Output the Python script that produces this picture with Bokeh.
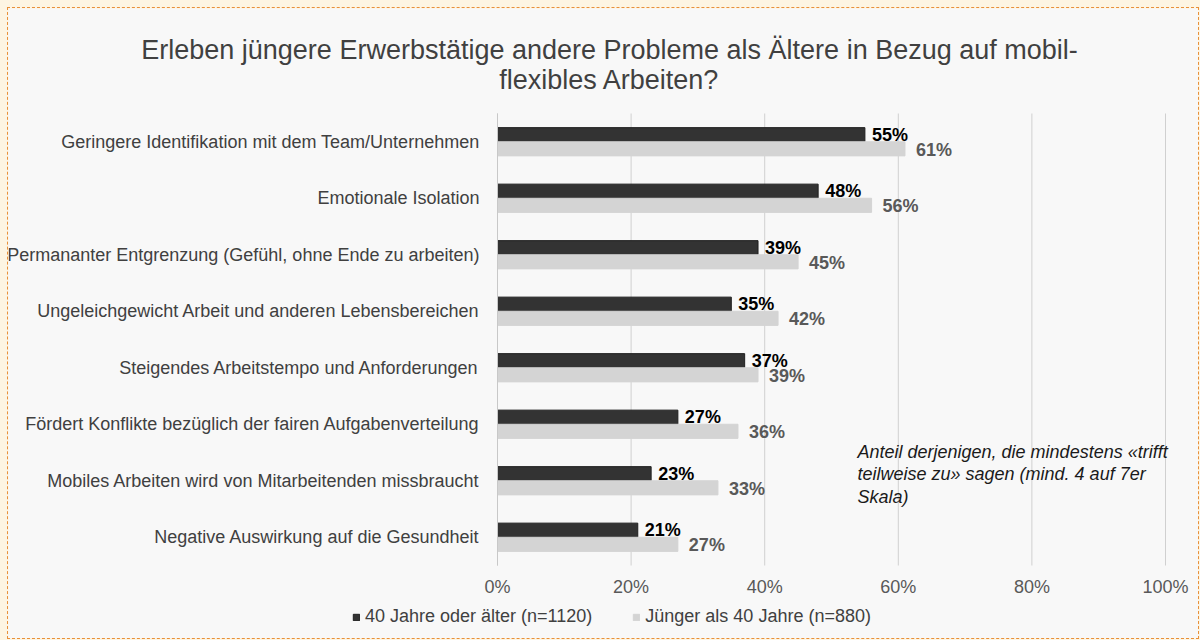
from bokeh.plotting import figure
from bokeh.models import (ColumnDataSource, Range1d, FixedTicker, LabelSet, Label,
                          Legend, LegendItem, LinearAxis)
from bokeh.core.properties import value
from bokeh.embed import file_html
from bokeh.resources import INLINE

categories = [
    "Geringere Identifikation mit dem Team/Unternehmen",
    "Emotionale Isolation",
    "Permananter Entgrenzung (Gefühl, ohne Ende zu arbeiten)",
    "Ungeleichgewicht Arbeit und anderen Lebensbereichen",
    "Steigendes Arbeitstempo und Anforderungen",
    "Fördert Konflikte bezüglich der fairen Aufgabenverteilung",
    "Mobiles Arbeiten wird von Mitarbeitenden missbraucht",
    "Negative Auswirkung auf die Gesundheit",
]
older = [55, 48, 39, 35, 37, 27, 23, 21]
younger = [61, 56, 45, 42, 39, 36, 33, 27]
series_names = ["40 Jahre oder älter (n=1120)", "Jünger als 40 Jahre (n=880)"]
x_ticks = [0, 20, 40, 60, 80, 100]
title_lines = [
    "Erleben jüngere Erwerbstätige andere Probleme als Ältere in Bezug auf mobil-",
    "flexibles Arbeiten?",
]
note_lines = [
    "Anteil derjenigen, die mindestens «trifft",
    "teilweise zu» sagen (mind. 4 auf 7er",
    "Skala)",
]

FONT = "Liberation Sans"
BG = "#f8f8f8"
DARK = "#333333"
LIGHT = "#d4d4d4"
GRID = "#d0d0d0"

W, H = 1192, 632
# layout of the plotting area (pixels inside the figure)
AREA_LEFT, AREA_RIGHT = 489, 1157      # 0% and 100%
AREA_TOP, AREA_BOTTOM = 105, 557       # top of first / bottom of last category band

n = len(categories)
pos = [n - 1 - i for i in range(n)]
bar_h = 0.25

px_x = (AREA_RIGHT - AREA_LEFT) / 100.0
px_y = (AREA_BOTTOM - AREA_TOP) / float(n)
x_range = Range1d(-AREA_LEFT / px_x, (W - AREA_LEFT) / px_x)
y_range = Range1d(-0.5 - (H - AREA_BOTTOM) / px_y, n - 0.5 + AREA_TOP / px_y)

src_old = ColumnDataSource(dict(y=[p + bar_h / 2 for p in pos], v=older,
                                t=[f"{v}%" for v in older]))
src_young = ColumnDataSource(dict(y=[p - bar_h / 2 for p in pos], v=younger,
                                  t=[f"{v}%" for v in younger]))

p = figure(width=W, height=H, output_backend="svg", toolbar_location=None,
           x_range=x_range, y_range=y_range,
           x_axis_location=None, y_axis_location=None,
           min_border_left=0, min_border_right=0, min_border_top=0, min_border_bottom=0)
p.background_fill_color = BG
p.border_fill_color = BG
p.outline_line_color = None
p.grid.visible = False
p.styles = {"border": "1px dashed #e8903a"}

# vertical grid lines over the category area
p.segment(x0=x_ticks, x1=x_ticks, y0=[-0.5] * len(x_ticks), y1=[n - 0.5] * len(x_ticks),
          line_color=GRID, line_width=1)

r_old = p.hbar(y="y", right="v", left=0, height=bar_h, source=src_old,
               fill_color=DARK, line_color="#1e1e1e", line_width=1)
r_young = p.hbar(y="y", right="v", left=0, height=bar_h, source=src_young,
                 fill_color=LIGHT, line_color=LIGHT, line_width=1)

p.add_layout(LabelSet(x="v", y="y", text="t", source=src_old, x_offset=7,
                      text_font=value(FONT), text_font_size=value("18px"),
                      text_font_style="bold",
                      text_color="#000000", text_baseline="middle"))
p.add_layout(LabelSet(x="v", y="y", text="t", source=src_young, x_offset=11, y_offset=-1,
                      text_font=value(FONT), text_font_size=value("18px"),
                      text_font_style="bold",
                      text_color="#595959", text_baseline="middle"))

# axes placed at fixed data locations
xaxis = LinearAxis(fixed_location=-0.5, bounds=(0, 100),
                   ticker=FixedTicker(ticks=x_ticks),
                   major_label_overrides={t: f"{t}%" for t in x_ticks},
                   axis_line_color=None, major_tick_line_color=None,
                   minor_tick_line_color=None, major_tick_out=0, major_tick_in=0,
                   major_label_text_font=FONT, major_label_text_font_size="18px",
                   major_label_text_color="#595959", major_label_standoff=11)
p.add_layout(xaxis, "below")

yaxis = LinearAxis(fixed_location=0, bounds=(-0.5, n - 0.5),
                   ticker=FixedTicker(ticks=pos),
                   major_label_overrides={pos[i]: categories[i] for i in range(n)},
                   axis_line_color="#c8c8c8", major_tick_line_color=None,
                   minor_tick_line_color=None, major_tick_out=0, major_tick_in=0,
                   major_label_text_font=FONT, major_label_text_font_size="18px",
                   major_label_text_color="#404040", major_label_standoff=18)
p.add_layout(yaxis, "left")

# title
for i, line in enumerate(title_lines):
    p.add_layout(Label(x=601, y=H - 41 - 30 * i, x_units="screen", y_units="screen",
                       text=line, text_align="center", text_baseline="alphabetic",
                       text_font=FONT, text_font_size="27px", text_color="#404040"))

# note
for i, line in enumerate(note_lines):
    p.add_layout(Label(x=849, y=189 - 22.7 * i, x_units="screen", y_units="screen",
                       text=line, text_align="left", text_baseline="alphabetic",
                       text_font=FONT, text_font_size="18px", text_font_style="italic",
                       text_color="#1a1a1a"))

legend = Legend(items=[LegendItem(label=series_names[0], renderers=[r_old]),
                       LegendItem(label=series_names[1], renderers=[r_young])],
                location=(344, 13), orientation="horizontal",
                glyph_width=8, glyph_height=8, label_standoff=5, spacing=40,
                padding=0, margin=0, border_line_color=None,
                background_fill_alpha=0,
                label_text_font=FONT, label_text_font_size="18px",
                label_text_color="#404040")
p.add_layout(legend)

html = file_html(p, INLINE)
html = html.replace(
    "</head>",
    "<style>html, body{background:#fdf5e3 !important; overflow:hidden;} "
    "body{padding:7px 0 0 7px !important;}</style></head>", 1)
open("out.html", "w").write(html)
